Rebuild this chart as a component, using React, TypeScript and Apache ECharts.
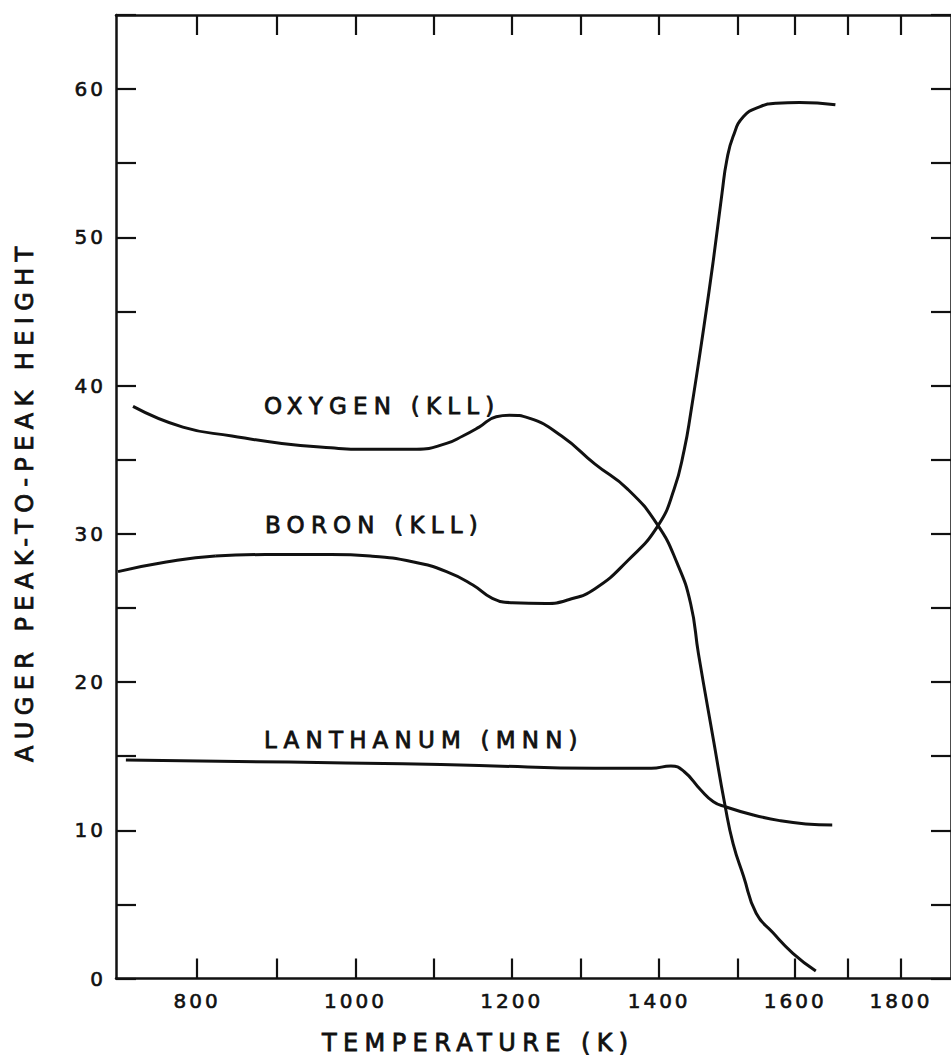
import React, { useEffect, useRef } from 'react';
import * as echarts from 'echarts';

// Temperature axis: the printed ticks are not evenly spaced, so temperatures are
// mapped onto the frame piecewise between the tick marks.
const TICK_TEMPS = [800, 900, 1000, 1100, 1200, 1300, 1400, 1500, 1600, 1700, 1800];
const LABEL_TEMPS = [800, 1000, 1200, 1400, 1600, 1800];
// distance of each tick from the left edge of the frame (px)
const TICK_OFFSETS = [82, 162, 242, 321.5, 400, 470, 549, 628.5, 686.5, 740, 793.5];
const FRAME_WIDTH = 844;

// Auger peak-to-peak heights vs. temperature (K)
const OXYGEN_T = [719, 782, 844, 907, 969, 1011, 1053, 1078, 1116, 1137, 1158, 1180, 1197, 1225, 1272, 1318, 1360, 1398, 1423, 1440, 1450, 1469, 1484, 1494, 1510, 1532, 1561, 1596, 1639];
const OXYGEN_V = [38.6, 37.2, 36.6, 36.1, 35.8, 35.7, 35.7, 35.7, 36.1, 36.6, 37.2, 37.9, 38.0, 37.8, 36.6, 34.7, 33.0, 30.6, 28.0, 25.3, 21.9, 16.1, 11.6, 9.1, 6.9, 4.4, 3.1, 1.7, 0.5];

const BORON_T = [700, 761, 823, 886, 969, 1019, 1074, 1116, 1150, 1175, 1201, 1249, 1282, 1318, 1360, 1398, 1419, 1432, 1440, 1457, 1469, 1480, 1486, 1494, 1510, 1538, 1567, 1608, 1676];
const BORON_V = [27.45, 28.1, 28.5, 28.6, 28.6, 28.5, 28.1, 27.45, 26.55, 25.65, 25.35, 25.3, 25.55, 26.3, 28.2, 30.5, 33.0, 35.7, 38.1, 44.0, 48.5, 53.0, 55.2, 56.8, 58.15, 58.8, 59.05, 59.1, 58.95];

const LANTHANUM_T = [710, 916, 1060, 1158, 1318, 1390, 1415, 1432, 1453, 1469, 1484, 1527, 1573, 1620, 1670];
const LANTHANUM_V = [14.74, 14.6, 14.48, 14.37, 14.18, 14.18, 14.34, 13.95, 12.72, 11.93, 11.59, 11.03, 10.65, 10.43, 10.36];

const INK = '#111111';
const FONT = 'DejaVu Sans';

function segmentIndex(v: number, xs: number[]): number {
  const n = xs.length;
  if (v <= xs[0]) return 0;
  if (v >= xs[n - 1]) return n - 2;
  let i = 0;
  while (v > xs[i + 1]) i++;
  return i;
}

function toAxis(t: number): number {
  const i = segmentIndex(t, TICK_TEMPS);
  const t0 = TICK_TEMPS[i], t1 = TICK_TEMPS[i + 1];
  const u0 = TICK_OFFSETS[i], u1 = TICK_OFFSETS[i + 1];
  return u0 + ((t - t0) * (u1 - u0)) / (t1 - t0);
}

function fromAxis(u: number): number {
  const i = segmentIndex(u, TICK_OFFSETS);
  const t0 = TICK_TEMPS[i], t1 = TICK_TEMPS[i + 1];
  const u0 = TICK_OFFSETS[i], u1 = TICK_OFFSETS[i + 1];
  return t0 + ((u - u0) * (t1 - t0)) / (u1 - u0);
}

const pairs = (ts: number[], vs: number[]) => ts.map((t, i) => [toAxis(t), vs[i]]);

// wide, stencil-style lettering
const lettering = `
  .plate svg text[style*="24px"] { letter-spacing: 6.4px; }
  .plate svg text[style*="23px"] { letter-spacing: 6.2px; }
  .plate svg text[style*="20px"] { letter-spacing: 3px; }
`;

function curve(name: string, ts: number[], vs: number[]) {
  return {
    name,
    type: 'line',
    xAxisIndex: 0,
    yAxisIndex: 0,
    data: pairs(ts, vs),
    smooth: 0.5,
    showSymbol: false,
    lineStyle: { color: INK, width: 3 },
  };
}

function tempAxis(position: 'bottom' | 'top', withLabels: boolean) {
  return {
    type: 'value',
    position,
    min: 0,
    max: FRAME_WIDTH,
    axisLine: { show: true, onZero: false, lineStyle: { color: INK, width: 2.5 } },
    axisTick: {
      show: true,
      inside: true,
      length: 20,
      customValues: TICK_TEMPS.map(toAxis),
      lineStyle: { color: INK, width: 2.2 },
    },
    axisLabel: {
      show: withLabels,
      customValues: LABEL_TEMPS.map(toAxis),
      formatter: (u: number) => String(Math.round(fromAxis(u))),
      margin: 12,
      fontSize: 20,
      fontFamily: FONT,
      color: INK,
      textBorderColor: INK,
      textBorderWidth: 0.6,
    },
    splitLine: { show: false },
  };
}

function heightAxis(position: 'left' | 'right', withLabels: boolean) {
  return {
    type: 'value',
    position,
    min: 0,
    max: 65,
    interval: 5,
    axisLine: { show: true, onZero: false, lineStyle: { color: INK, width: 2.5 } },
    axisTick: { show: true, inside: true, length: 20, lineStyle: { color: INK, width: 2.2 } },
    axisLabel: {
      show: withLabels,
      formatter: (v: number) => (v % 10 === 0 ? String(v) : ''),
      margin: 10,
      fontSize: 20,
      fontFamily: FONT,
      color: INK,
      textBorderColor: INK,
      textBorderWidth: 0.6,
    },
    splitLine: { show: false },
  };
}

function caption(text: string, x: number, y: number, size: number, rotation = 0) {
  return {
    type: 'text',
    x,
    y,
    rotation,
    silent: true,
    style: {
      text,
      x: 0,
      y: 0,
      fill: INK,
      stroke: INK,
      lineWidth: 0.8,
      fontSize: size,
      fontFamily: FONT,
      textAlign: 'left',
      textVerticalAlign: 'middle',
    },
  };
}

export default function App() {
  const ref = useRef<HTMLDivElement>(null);

  useEffect(() => {
    if (!ref.current) return;
    const chart = echarts.init(ref.current, null, { renderer: 'svg' });
    chart.setOption({
      animation: false,
      backgroundColor: '#ffffff',
      grid: { left: 116, top: 15, width: FRAME_WIDTH, height: 963.5, containLabel: false },
      xAxis: [tempAxis('bottom', true), tempAxis('top', false)],
      yAxis: [heightAxis('left', true), heightAxis('right', false)],
      series: [
        curve('OXYGEN (KLL)', OXYGEN_T, OXYGEN_V),
        curve('BORON (KLL)', BORON_T, BORON_V),
        curve('LANTHANUM (MNN)', LANTHANUM_T, LANTHANUM_V),
      ],
      graphic: [
        caption('OXYGEN (KLL)', 264, 406, 23),
        caption('BORON (KLL)', 265, 525, 23),
        caption('LANTHANUM (MNN)', 264, 740, 23),
        caption('TEMPERATURE (K)', 322, 1043, 24),
        caption('AUGER PEAK-TO-PEAK HEIGHT', 25, 762, 24, Math.PI / 2),
      ],
    });
    return () => chart.dispose();
  }, []);

  return (
    <div className="plate" style={{ position: 'absolute', left: 0, top: 0, width: 951, height: 1057, background: '#fff', overflow: 'hidden' }}>
      <style>{lettering}</style>
      <div ref={ref} style={{ width: 951, height: 1057 }} />
    </div>
  );
}
